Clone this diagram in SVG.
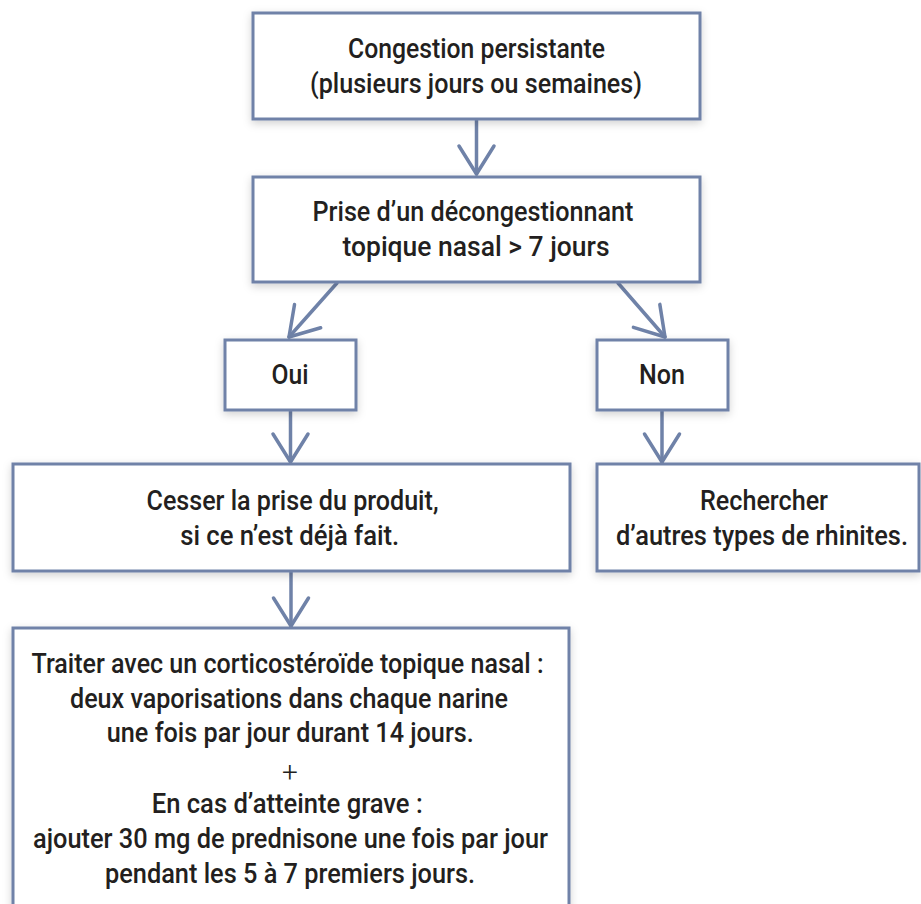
<svg xmlns="http://www.w3.org/2000/svg" width="921" height="904" viewBox="0 0 921 904">
<style>
.box{fill:#fff;stroke:#6f82a8;stroke-width:3;filter:url(#sh)}
.t{font-family:Roboto,"Liberation Sans","Noto Sans",sans-serif;font-weight:500;font-size:28px;fill:#231f20;text-anchor:middle}
.thin{font-weight:300}
.c{stroke:#6f82a8;stroke-width:3.5;fill:none;stroke-linecap:round;marker-end:url(#ah)}
</style>
<defs>
<filter id="sh" x="-10%" y="-10%" width="120%" height="130%">
<feDropShadow dx="0" dy="3" stdDeviation="4" flood-color="#000" flood-opacity="0.18"/>
</filter>
<marker id="ah" markerUnits="userSpaceOnUse" markerWidth="40" markerHeight="40" refX="0" refY="0" orient="auto" overflow="visible">
<path d="M-28,-17.5 L0,0 L-28,17.5" fill="none" stroke="#6f82a8" stroke-width="3.5" stroke-linecap="round" stroke-linejoin="round"/>
</marker>
</defs>
<rect width="921" height="904" fill="#fff"/>
<g id="connectors">
<line class="c" x1="476.5" y1="120" x2="476.5" y2="174"/>
<line class="c" x1="337" y1="283" x2="289" y2="337"/>
<line class="c" x1="618" y1="283" x2="665" y2="337"/>
<line class="c" x1="290.5" y1="411" x2="290.5" y2="462"/>
<line class="c" x1="662" y1="411" x2="662" y2="462"/>
<line class="c" x1="291" y1="572" x2="291" y2="626"/>
</g>
<g id="n1">
<rect class="box" x="253" y="13" width="447" height="106"/>
<text class="t" x="476.5" y="58" textLength="257" lengthAdjust="spacingAndGlyphs">Congestion persistante</text>
<text class="t" x="476" y="93" textLength="332" lengthAdjust="spacingAndGlyphs">(plusieurs jours ou semaines)</text>
</g>
<g id="n2">
<rect class="box" x="253" y="177" width="447" height="105"/>
<text class="t" x="473" y="221" textLength="321" lengthAdjust="spacingAndGlyphs">Prise d’un décongestionnant</text>
<text class="t" x="476" y="256" textLength="267" lengthAdjust="spacingAndGlyphs">topique nasal &gt; 7 jours</text>
</g>
<g id="oui">
<rect class="box" x="225" y="340" width="131" height="70"/>
<text class="t" x="290" y="384" textLength="37" lengthAdjust="spacingAndGlyphs">Oui</text>
</g>
<g id="non">
<rect class="box" x="597" y="340" width="131" height="70"/>
<text class="t" x="662" y="384" textLength="46" lengthAdjust="spacingAndGlyphs">Non</text>
</g>
<g id="cesser">
<rect class="box" x="13" y="464" width="557" height="107"/>
<text class="t" x="292.5" y="510" textLength="292" lengthAdjust="spacingAndGlyphs">Cesser la prise du produit,</text>
<text class="t" x="289.7" y="545" textLength="219" lengthAdjust="spacingAndGlyphs">si ce n’est déjà fait.</text>
</g>
<g id="rechercher">
<rect class="box" x="597" y="464" width="322" height="107"/>
<text class="t" x="764" y="510" textLength="128" lengthAdjust="spacingAndGlyphs">Rechercher</text>
<text class="t" transform="translate(762 545) scale(0.86 1)" x="0" y="0" textLength="339.5" lengthAdjust="spacingAndGlyphs">d’autres types de rhinites.</text>
</g>
<g id="traiter">
<rect class="box" x="13" y="628" width="556" height="300"/>
<text class="t" x="287.5" y="673" textLength="512" lengthAdjust="spacingAndGlyphs">Traiter avec un corticostéroïde topique nasal :</text>
<text class="t" x="289" y="708" textLength="438" lengthAdjust="spacingAndGlyphs">deux vaporisations dans chaque narine</text>
<text class="t" x="290.3" y="742" textLength="367" lengthAdjust="spacingAndGlyphs">une fois par jour durant 14 jours.</text>
<text class="t thin" x="290" y="782">+</text>
<text class="t" x="287.2" y="813" textLength="271" lengthAdjust="spacingAndGlyphs">En cas d’atteinte grave :</text>
<text class="t" x="290.5" y="848" textLength="515" lengthAdjust="spacingAndGlyphs">ajouter 30 mg de prednisone une fois par jour</text>
<text class="t" x="290" y="883" textLength="370" lengthAdjust="spacingAndGlyphs">pendant les 5 à 7 premiers jours.</text>
</g>
</svg>
